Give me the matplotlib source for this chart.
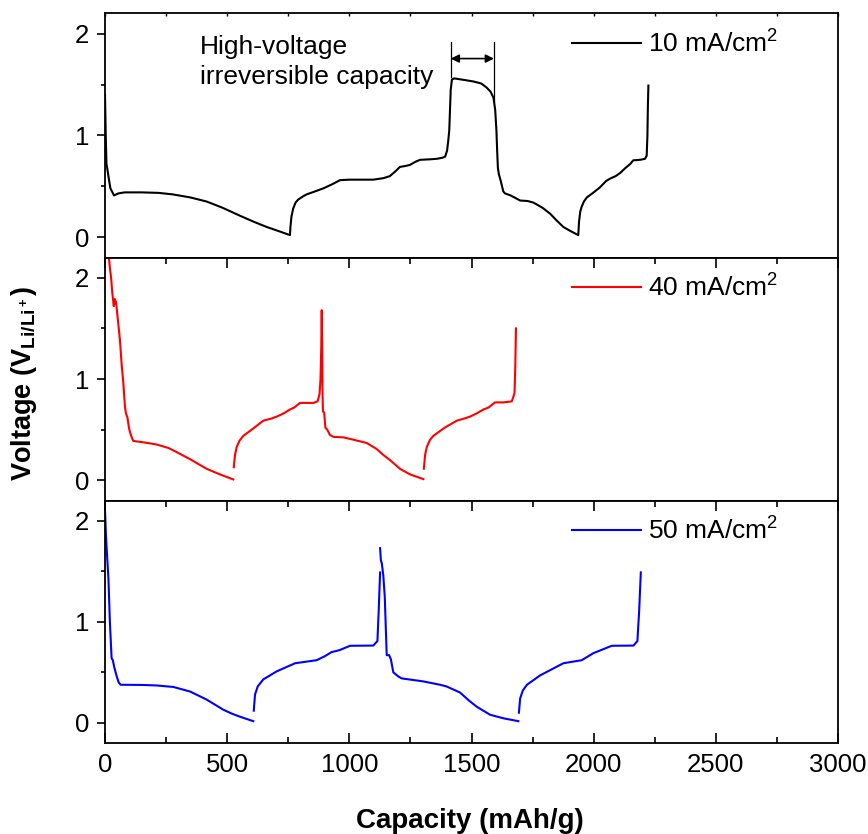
import numpy as np
import matplotlib
matplotlib.use("Agg")
import matplotlib.pyplot as plt

plt.rcParams['font.family'] = ['Liberation Sans', 'DejaVu Sans']
plt.rcParams['mathtext.fontset'] = 'custom'
plt.rcParams['mathtext.rm'] = 'Liberation Sans'
plt.rcParams['mathtext.bf'] = 'Liberation Sans:bold'
plt.rcParams['mathtext.it'] = 'Liberation Sans:italic'

nan = np.nan

# ---- 10 mA/cm2 (black) ----
cap10 = [0, 3, 6, 9, 14, 22, 37, 55, 80, 150, 220, 278, 350, 416, 480, 553, 610, 662, 710, 757,
         759, 763, 770, 780, 791, 810, 825, 860, 894, 930, 962, 1000, 1098, 1140, 1166, 1190, 1207,
         1230, 1248, 1270, 1289, 1330, 1358, 1380, 1392, 1400, 1405, 1409, 1412, 1415, 1420, 1430,
         1470, 1508, 1540, 1562, 1578, 1590, 1597, 1602, 1605, 1608, 1612, 1620, 1630, 1637, 1660,
         1699, 1730, 1753, 1790, 1822, 1850, 1876, 1905, 1937,
         1940, 1945, 1951, 1960, 1972, 2000, 2026, 2050, 2067, 2090, 2108, 2130, 2150, 2162, 2190,
         2210, 2217, 2220, 2222, 2224]
v10 = [1.40, 1.0, 0.72, 0.68, 0.60, 0.48, 0.41, 0.43, 0.44, 0.44, 0.435, 0.42, 0.39, 0.35, 0.29,
       0.21, 0.15, 0.10, 0.06, 0.02,
       0.10, 0.20, 0.28, 0.34, 0.37, 0.40, 0.42, 0.45, 0.48, 0.52, 0.56, 0.565, 0.565, 0.58, 0.60,
       0.65, 0.69, 0.70, 0.71, 0.74, 0.76, 0.765, 0.77, 0.78, 0.79, 0.85, 0.95, 1.05, 1.25, 1.45,
       1.55, 1.56, 1.545, 1.53, 1.51, 1.47, 1.43, 1.37, 1.25, 1.05, 0.85, 0.68, 0.62, 0.55, 0.45,
       0.43, 0.41, 0.36, 0.355, 0.34, 0.29, 0.23, 0.16, 0.10, 0.06, 0.02,
       0.15, 0.25, 0.30, 0.35, 0.39, 0.44, 0.49, 0.55, 0.575, 0.60, 0.63, 0.68, 0.72, 0.755, 0.76,
       0.77, 0.80, 1.0, 1.3, 1.49]

# ---- 40 mA/cm2 (red) ----
cap40 = [14, 20, 25, 30, 34, 36, 40, 45, 50, 61, 68, 75, 82, 86, 92, 98, 102, 110, 116, 160, 211,
         260, 293, 348, 380, 416, 470, 525, nan,
         527, 532, 539, 550, 566, 600, 648, 680, 703, 730, 757, 775, 798, 830, 853, 870, 878, 882,
         885, 887, 889, 890, 892, 897, 902, 910, 920, 935, 976, 1020, 1071, 1112, 1140, 1167, 1207,
         1248, 1303, nan,
         1305, 1310, 1317, 1330, 1344, 1390, 1440, 1470, 1494, 1520, 1549, 1570, 1596, 1630, 1665,
         1676, 1679, 1682]
v40 = [2.25, 2.10, 2.0, 1.85, 1.76, 1.72, 1.79, 1.76, 1.65, 1.39, 1.15, 0.96, 0.72, 0.66, 0.62,
       0.52, 0.48, 0.42, 0.39, 0.375, 0.355, 0.32, 0.28, 0.21, 0.165, 0.115, 0.06, 0.01, nan,
       0.13, 0.25, 0.33, 0.39, 0.44, 0.50, 0.59, 0.61, 0.63, 0.66, 0.70, 0.72, 0.765, 0.765, 0.765,
       0.78, 0.85, 1.0, 1.3, 1.68, 1.3, 0.9, 0.68, 0.67, 0.52, 0.50, 0.45, 0.43, 0.425, 0.40, 0.37,
       0.31, 0.25, 0.20, 0.115, 0.06, 0.013, nan,
       0.115, 0.25, 0.33, 0.40, 0.44, 0.52, 0.59, 0.61, 0.63, 0.66, 0.70, 0.72, 0.77, 0.77, 0.78,
       0.86, 1.1, 1.50]

# ---- 50 mA/cm2 (blue) ----
cap50 = [0, 4, 7, 14, 20, 27, 32, 38, 48, 56, 64, 150, 211, 280, 348, 416, 450, 484, 520, 553, 607,
         nan,
         609, 614, 625, 648, 703, 778, 866, 900, 927, 960, 1003, 1098, 1115, 1120, 1126, nan,
         1126, 1129, 1133, 1139, 1145, 1153, 1163, 1170, 1180, 1190, 1200, 1214, 1303, 1371, 1398,
         1453, 1490, 1521, 1576, 1630, 1692, nan,
         1694, 1699, 1710, 1727, 1781, 1876, 1951, 1999, 2030, 2074, 2163, 2179, 2186, 2193]
v50 = [2.10, 1.85, 1.72, 1.43, 1.00, 0.64, 0.62, 0.55, 0.46, 0.40, 0.377, 0.375, 0.37, 0.355, 0.31,
       0.23, 0.18, 0.13, 0.09, 0.06, 0.016, nan,
       0.12, 0.28, 0.36, 0.43, 0.51, 0.59, 0.62, 0.66, 0.70, 0.72, 0.763, 0.765, 0.81, 1.1, 1.49, nan,
       1.73, 1.61, 1.58, 1.46, 1.25, 0.67, 0.67, 0.63, 0.50, 0.48, 0.46, 0.44, 0.41, 0.377, 0.36,
       0.30, 0.22, 0.16, 0.08, 0.045, 0.016, nan,
       0.10, 0.24, 0.32, 0.377, 0.47, 0.59, 0.62, 0.69, 0.72, 0.763, 0.765, 0.81, 1.1, 1.49]

labels = ['10 mA/cm$^\\mathregular{2}$', '40 mA/cm$^\\mathregular{2}$', '50 mA/cm$^\\mathregular{2}$']
colors = ['black', 'red', 'blue']
xticks = [0, 500, 1000, 1500, 2000, 2500, 3000]
yticks = [0, 1, 2]

annot_text = 'High-voltage\nirreversible capacity'
annot_pos = (389, 1.985)
arrow_x = [1415, 1592]
arrow_y = 1.755
bar_top = 1.92
bar_bottoms = [1.57, 1.33]

W, H = 868, 834
fig = plt.figure(figsize=(W / 100, H / 100), dpi=100)
left, right = 105 / W, 838 / W
edges = [13.3, 257.5, 500.7, 743]
axes = []
for i in range(3):
    b = 1 - edges[i + 1] / H
    t = 1 - edges[i] / H
    ax = fig.add_axes([left, b, right - left, t - b])
    axes.append(ax)

TFS = 18.5
series = [(cap10, v10), (cap40, v40), (cap50, v50)]
for i, ax in enumerate(axes):
    x, y = series[i]
    ax.plot(x, y, color=colors[i], lw=1.5, label=labels[i])
    ax.set_xlim(0, 3000)
    ax.set_ylim(-0.2, 2.2)
    ax.set_yticks(yticks)
    ax.set_yticks([0.5, 1.5], minor=True)
    ax.set_xticks(xticks)
    ax.set_xticks([250, 750, 1250, 1750, 2250, 2750], minor=True)
    for s in ax.spines.values():
        s.set_linewidth(1.3)
    ax.tick_params(axis='y', which='major', direction='out', length=6, width=1.2, labelsize=TFS, pad=5.5)
    ax.tick_params(axis='y', which='minor', direction='out', length=3, width=1.2)
    if i < 2:
        ax.tick_params(axis='x', which='both', bottom=False, labelbottom=False)
    else:
        ax.tick_params(axis='x', which='major', direction='out', length=6, width=1.2, labelsize=TFS, pad=7)
        ax.tick_params(axis='x', which='minor', direction='out', length=3, width=1.2)
    if i > 0:
        ax.tick_params(axis='x', which='major', top=True, direction='in', length=7, width=1.2)
        ax.tick_params(axis='x', which='minor', top=True, direction='in', length=4, width=1.2)
    else:
        ax.tick_params(axis='x', which='both', top=True, direction='in', length=2, width=1.0)
    if i == 2:
        ax.tick_params(axis='x', which='major', top=True, bottom=True)
    ax.legend(loc='center left', bbox_to_anchor=(0.637, 0.875), frameon=False, fontsize=19,
              handlelength=2.6, handletextpad=0.3, borderpad=0, borderaxespad=0)

ax0 = axes[0]
ax0.text(annot_pos[0], annot_pos[1], annot_text, fontsize=19, va='top', ha='left', linespacing=1.3)
for xb, yb in zip(arrow_x, bar_bottoms):
    ax0.plot([xb, xb], [yb, bar_top], color='black', lw=0.9)
ax0.annotate('', xy=(arrow_x[1], arrow_y), xytext=(arrow_x[0], arrow_y),
             arrowprops=dict(arrowstyle='<|-|>', color='black', lw=1.2, mutation_scale=12,
                             shrinkA=0, shrinkB=0))

fig.text(0.028, 0.54, 'Voltage (V$_{\\mathbf{Li/Li^+}}$)', rotation=90, fontsize=19.5,
         fontweight='bold', ha='center', va='center')
fig.text(0.541, 0.016, 'Capacity (mAh/g)', fontsize=20, fontweight='bold', ha='center', va='center')

fig.savefig('out.png', dpi=100)
